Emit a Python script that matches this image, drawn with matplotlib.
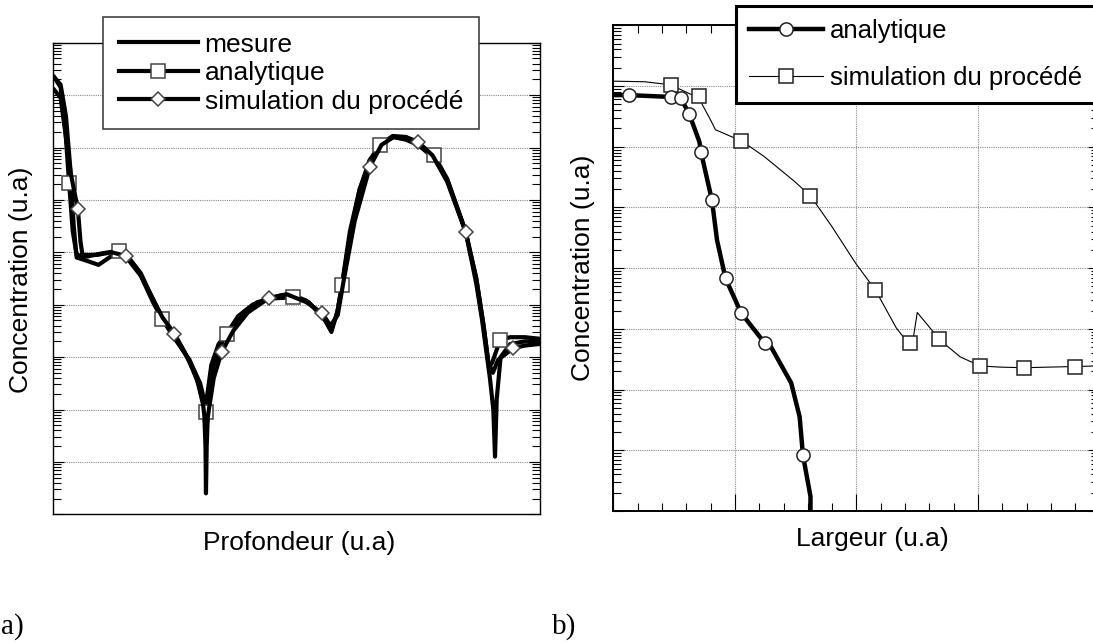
import numpy as np
import matplotlib
matplotlib.use('Agg')
import matplotlib.pyplot as plt
from matplotlib.ticker import LogLocator, MultipleLocator, NullFormatter, NullLocator

plt.rcParams['font.family'] = ['Liberation Sans', 'DejaVu Sans']

# ---------------- data: panel a) (depth profile) ----------------
# x: depth (u.a), y: log10 of concentration (u.a)
mesure_x = [0.2, 1.5, 2.6, 3.5, 4.2, 4.8, 6.5, 9.3, 11.5, 13.4, 15.5, 18.0, 20.5, 22.4, 25.0,
            28.0, 30.0, 31.0, 31.3, 31.4, 31.55, 31.9, 33.0, 35.0, 38.0, 41.0, 44.4, 47.0, 49.3,
            52.0, 55.3, 57.2, 58.5, 59.4, 61.0, 63.0, 65.1, 67.2, 69.8, 72.5, 75.0, 78.3, 81.0,
            84.8, 87.0, 88.2, 89.8, 90.5, 90.85, 91.2, 92.0, 94.0, 97.0, 100.0]
mesure_log = [20.34, 20.2, 19.6, 18.6, 17.5, 16.9, 16.85, 16.76, 16.9, 17.0, 16.85, 16.55, 16.05,
              15.72, 15.38, 14.93, 14.45, 14.05, 13.3, 12.4, 13.3, 14.2, 14.85, 15.35, 15.78, 16.0,
              16.12, 16.18, 16.18, 16.08, 15.8, 15.48, 15.9, 16.4, 17.4, 18.2, 18.7, 19.05, 19.22,
              19.2, 19.05, 18.8, 18.4, 17.4, 16.4, 15.7, 14.6, 14.0, 13.1, 14.2, 15.0, 15.25,
              15.3, 15.3]

analyt_a_x = [0.2, 1.5, 2.5, 3.25, 4.0, 4.8, 7.0, 10.0, 13.43, 15.5, 18.0, 20.5, 22.36, 25.0,
              28.0, 30.2, 31.0, 31.4, 31.7, 32.5, 34.0, 35.8, 39.0, 42.0, 45.0, 49.3, 52.5,
              55.5, 57.2, 58.3, 59.4, 61.0, 63.0, 65.0, 67.2, 69.8, 72.5, 75.0, 78.3, 81.0,
              84.8, 87.0, 88.5, 89.6, 90.3, 91.9, 94.0, 97.0, 100.0]
analyt_a_log = [20.34, 20.15, 19.3, 18.32, 17.4, 16.95, 16.92, 16.98, 17.03, 16.9, 16.6, 16.1,
                15.73, 15.35, 14.95, 14.5, 14.2, 13.96, 14.3, 14.85, 15.25, 15.45, 15.85, 16.05,
                16.12, 16.14, 16.05, 15.75, 15.55, 15.8, 16.38, 17.3, 18.2, 18.75, 19.05, 19.2,
                19.15, 19.05, 18.86, 18.4, 17.4, 16.5, 15.6, 14.8, 14.9, 15.33, 15.38, 15.38,
                15.35]
analyt_a_marks = [3, 8, 12, 17, 21, 25, 30, 34, 38, 45]

simul_a_x = [0.2, 1.5, 2.6, 3.6, 5.06, 5.6, 6.0, 9.0, 12.0, 15.0, 17.5, 20.0, 22.5, 24.9, 27.0,
             29.5, 30.8, 31.4, 32.0, 33.0, 34.6, 37.0, 40.0, 44.4, 48.0, 52.0, 55.3, 57.0, 58.5,
             59.8, 62.0, 65.1, 67.5, 70.0, 72.5, 75.0, 78.0, 81.0, 84.8, 87.0, 88.5, 89.5, 90.4,
             91.5, 94.6, 97.0, 100.0]
simul_a_log = [20.10, 19.95, 19.2, 18.5, 17.82, 17.2, 16.95, 16.95, 17.0, 16.93, 16.65, 16.2,
               15.75, 15.45, 15.1, 14.6, 14.1, 13.6, 14.0, 14.6, 15.09, 15.5, 15.85, 16.13, 16.2,
               16.05, 15.84, 15.6, 15.8, 16.5, 17.6, 18.63, 19.05, 19.2, 19.2, 19.11, 18.85, 18.35,
               17.39, 16.5, 15.6, 14.9, 14.7, 14.95, 15.17, 15.22, 15.25]
simul_a_marks = [4, 9, 13, 20, 23, 26, 31, 35, 38, 44]

# ---------------- data: panel b) (lateral profile) ----------------
analyt_b_x = [0.0, 0.131, 0.47, 0.554, 0.624, 0.708, 0.721, 0.811, 0.853, 0.923, 1.052, 1.244,
              1.295, 1.463, 1.533, 1.56, 1.622, 1.622]
analyt_b_log = [18.85, 18.85, 18.82, 18.80, 18.54, 18.08, 17.91, 17.12, 16.46, 15.83, 15.26,
                14.77, 14.71, 14.11, 13.55, 12.92, 12.24, 11.9]
analyt_b_marks = [1, 2, 3, 4, 6, 7, 9, 10, 11, 15]

simul_b_x = [0.0, 0.26, 0.47, 0.652, 0.708, 0.73, 0.80, 0.84, 0.99, 1.052, 1.24, 1.49, 1.622,
             1.80, 1.994, 2.156, 2.33, 2.39, 2.442, 2.466, 2.501, 2.633, 2.68, 2.853, 3.017,
             3.182, 3.379, 3.799, 4.0]
simul_b_log = [19.08, 19.07, 19.02, 18.85, 18.83, 18.7, 18.44, 18.28, 18.15, 18.10, 17.84, 17.43,
               17.19, 16.68, 16.08, 15.64, 15.01, 14.86, 14.77, 14.82, 15.27, 14.95, 14.83, 14.54,
               14.39, 14.37, 14.36, 14.38, 14.39]
simul_b_marks = [2, 4, 9, 12, 15, 18, 22, 24, 26, 27]

labels_a = ['mesure', 'analytique', 'simulation du procédé']
labels_b = ['analytique', 'simulation du procédé']

# ---------------- figure ----------------
W, H = 1093, 643
fig = plt.figure(figsize=(W / 100, H / 100), dpi=100)


def fx(px):
    return px / W


def fy(py):
    return 1 - py / H


axL = fig.add_axes([fx(53.3), fy(514.3), (539.5 - 53.3) / W, (514.3 - 42.7) / H])
axR = fig.add_axes([fx(613.4), fy(511.0), (1099.4 - 613.4) / W, (511.0 - 25.3) / H])

grid_kw = dict(linestyle=(0, (1, 1)), color='#8a8a8a', linewidth=0.8)
mk_edge = '#444444'

# ---- panel a ----
c = lambda v: 10.0 ** np.asarray(v)
l1, = axL.plot(mesure_x, c(mesure_log), color='black', lw=3.0, zorder=3)
l2, = axL.plot(analyt_a_x, c(analyt_a_log), color='black', lw=3.0, marker='s', ms=10,
               mfc='white', mec=mk_edge, mew=1.1, markevery=analyt_a_marks, zorder=4)
l3, = axL.plot(simul_a_x, c(simul_a_log), color='black', lw=3.0, marker='D', ms=7,
               mfc='white', mec=mk_edge, mew=1.1, markevery=simul_a_marks, zorder=5)
axL.set_yscale('log')
axL.set_xlim(0, 100)
axL.set_ylim(1e12, 1e21)
axL.yaxis.set_major_locator(LogLocator(base=10, numticks=30))
axL.yaxis.set_minor_locator(LogLocator(base=10, subs=np.arange(2, 10), numticks=30))
axL.yaxis.set_major_formatter(NullFormatter())
axL.yaxis.set_minor_formatter(NullFormatter())
axL.xaxis.set_major_locator(NullLocator())
axL.xaxis.set_minor_locator(NullLocator())
axL.tick_params(axis='y', which='both', direction='in', left=True, right=True, width=0.8)
axL.tick_params(axis='y', which='major', length=8)
axL.tick_params(axis='y', which='minor', length=5.5)
axL.yaxis.grid(True, which='major', **grid_kw)
axL.set_axisbelow(True)
for s in axL.spines.values():
    s.set_linewidth(1.0)

legL = axL.legend([l1, l2, l3], labels_a, loc='upper left', bbox_to_anchor=(fx(103), fy(16.7)),
                  bbox_transform=fig.transFigure, borderaxespad=0, fancybox=False,
                  framealpha=1, edgecolor='#333333', fontsize=19, handlelength=3.0,
                  handletextpad=0.25, labelspacing=0.17, borderpad=0.6, numpoints=1)
legL.get_frame().set_linewidth(1.1)
legL.set_zorder(10)

# ---- panel b ----
m1, = axR.plot(analyt_b_x, c(analyt_b_log), color='black', lw=3.2, marker='o', ms=9.5,
               mfc='white', mec='#222222', mew=1.1, markevery=analyt_b_marks, zorder=4)
m2, = axR.plot(simul_b_x, c(simul_b_log), color='black', lw=0.8, marker='s', ms=10,
               mfc='white', mec='#222222', mew=1.1, markevery=simul_b_marks, zorder=3)
axR.set_yscale('log')
axR.set_xlim(0, 4)
axR.set_ylim(1e12, 1e20)
axR.yaxis.set_major_locator(LogLocator(base=10, numticks=30))
axR.yaxis.set_minor_locator(LogLocator(base=10, subs=np.arange(2, 10), numticks=30))
axR.yaxis.set_major_formatter(NullFormatter())
axR.yaxis.set_minor_formatter(NullFormatter())
axR.xaxis.set_major_locator(MultipleLocator(1))
axR.xaxis.set_minor_locator(MultipleLocator(0.2))
axR.xaxis.set_major_formatter(NullFormatter())
axR.tick_params(which='both', direction='in', left=True, right=True, top=True, bottom=True,
                width=0.8)
axR.tick_params(axis='y', which='major', length=8)
axR.tick_params(axis='y', which='minor', length=6)
axR.tick_params(axis='x', which='major', length=12)
axR.tick_params(axis='x', which='minor', length=6)
axR.grid(True, which='major', **grid_kw)
axR.set_axisbelow(True)
for s in axR.spines.values():
    s.set_linewidth(1.4)

legR = axR.legend([m1, m2], labels_b, loc='upper left', bbox_to_anchor=(fx(736.0), fy(5.7)),
                  bbox_transform=fig.transFigure, borderaxespad=0, fancybox=False,
                  framealpha=1, edgecolor='black', fontsize=18.5, handlelength=2.85,
                  handletextpad=0.28, labelspacing=0.88, borderpad=0.52, numpoints=1)
legR.get_frame().set_linewidth(2.2)
legR.set_zorder(10)

# ---- texts ----
fig.text(fx(21), fy(280), 'Concentration (u.a)', rotation=90, ha='center', va='center',
         fontsize=19)
fig.text(fx(583), fy(268), 'Concentration (u.a)', rotation=90, ha='center', va='center',
         fontsize=19)
fig.text(fx(299.4), fy(543), 'Profondeur (u.a)', ha='center', va='center', fontsize=19)
fig.text(fx(872), fy(539), 'Largeur (u.a)', ha='center', va='center', fontsize=19)
fig.text(fx(1), fy(627), 'a)', ha='left', va='center', fontsize=21,
         family=['Liberation Serif', 'DejaVu Serif'])
fig.text(fx(551.7), fy(627), 'b)', ha='left', va='center', fontsize=21,
         family=['Liberation Serif', 'DejaVu Serif'])

fig.savefig('out.png', dpi=100)
